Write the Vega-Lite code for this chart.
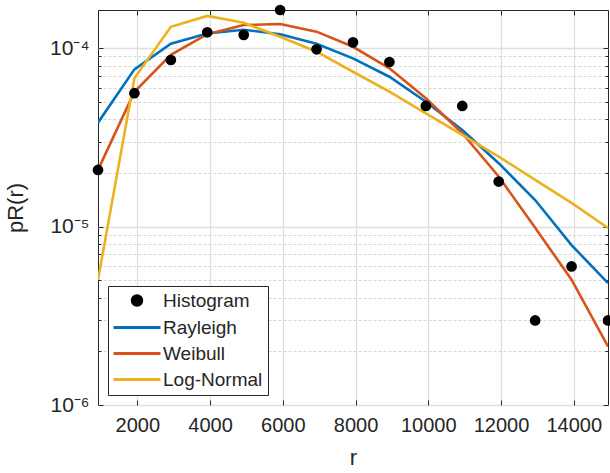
{
  "$schema": "https://vega.github.io/schema/vega-lite/v6.json",
  "width": 510,
  "height": 395,
  "autosize": {"type": "none"},
  "padding": {"left": 98, "top": 10, "right": 2, "bottom": 68},
  "background": "white",
  "config": {
    "view": {"stroke": "#262626", "strokeWidth": 1},
    "font": "Liberation Sans",
    "axis": {
      "labelFont": "Liberation Sans",
      "titleFont": "Liberation Sans",
      "labelColor": "#262626",
      "titleColor": "#262626",
      "titleFontWeight": "normal",
      "domain": false,
      "tickColor": "#262626"
    }
  },
  "datasets": {
    "d": [
      {"r": 920, "p": 2.08e-5, "series": "Histogram"},
      {"r": 1921, "p": 5.6e-5, "series": "Histogram"},
      {"r": 2923, "p": 8.6e-5, "series": "Histogram"},
      {"r": 3924, "p": 1.23e-4, "series": "Histogram"},
      {"r": 4926, "p": 1.19e-4, "series": "Histogram"},
      {"r": 5927, "p": 1.64e-4, "series": "Histogram"},
      {"r": 6928, "p": 9.87e-5, "series": "Histogram"},
      {"r": 7930, "p": 1.08e-4, "series": "Histogram"},
      {"r": 8931, "p": 8.38e-5, "series": "Histogram"},
      {"r": 9933, "p": 4.75e-5, "series": "Histogram"},
      {"r": 10934, "p": 4.75e-5, "series": "Histogram"},
      {"r": 11935, "p": 1.79e-5, "series": "Histogram"},
      {"r": 12937, "p": 2.98e-6, "series": "Histogram"},
      {"r": 13938, "p": 5.98e-6, "series": "Histogram"},
      {"r": 14940, "p": 2.98e-6, "series": "Histogram"},

      {"r": 920, "p": 3.83e-5, "series": "Rayleigh"},
      {"r": 1921, "p": 7.62e-5, "series": "Rayleigh"},
      {"r": 2923, "p": 1.06e-4, "series": "Rayleigh"},
      {"r": 3924, "p": 1.21e-4, "series": "Rayleigh"},
      {"r": 4926, "p": 1.27e-4, "series": "Rayleigh"},
      {"r": 5927, "p": 1.2e-4, "series": "Rayleigh"},
      {"r": 6928, "p": 1.06e-4, "series": "Rayleigh"},
      {"r": 7930, "p": 8.78e-5, "series": "Rayleigh"},
      {"r": 8931, "p": 6.93e-5, "series": "Rayleigh"},
      {"r": 9933, "p": 5.02e-5, "series": "Rayleigh"},
      {"r": 10934, "p": 3.48e-5, "series": "Rayleigh"},
      {"r": 11935, "p": 2.27e-5, "series": "Rayleigh"},
      {"r": 12937, "p": 1.41e-5, "series": "Rayleigh"},
      {"r": 13938, "p": 7.88e-6, "series": "Rayleigh"},
      {"r": 14940, "p": 4.83e-6, "series": "Rayleigh"},

      {"r": 920, "p": 2.08e-5, "series": "Weibull"},
      {"r": 1921, "p": 5.7e-5, "series": "Weibull"},
      {"r": 2923, "p": 9.2e-5, "series": "Weibull"},
      {"r": 3924, "p": 1.2e-4, "series": "Weibull"},
      {"r": 4926, "p": 1.35e-4, "series": "Weibull"},
      {"r": 5927, "p": 1.37e-4, "series": "Weibull"},
      {"r": 6928, "p": 1.24e-4, "series": "Weibull"},
      {"r": 7930, "p": 1.02e-4, "series": "Weibull"},
      {"r": 8931, "p": 7.72e-5, "series": "Weibull"},
      {"r": 9933, "p": 5.25e-5, "series": "Weibull"},
      {"r": 10934, "p": 3.34e-5, "series": "Weibull"},
      {"r": 11935, "p": 1.91e-5, "series": "Weibull"},
      {"r": 12937, "p": 9.86e-6, "series": "Weibull"},
      {"r": 13938, "p": 5.04e-6, "series": "Weibull"},
      {"r": 14940, "p": 2.13e-6, "series": "Weibull"},

      {"r": 920, "p": 5.04e-6, "series": "Log-Normal"},
      {"r": 1921, "p": 6.79e-5, "series": "Log-Normal"},
      {"r": 2923, "p": 1.32e-4, "series": "Log-Normal"},
      {"r": 3924, "p": 1.52e-4, "series": "Log-Normal"},
      {"r": 4926, "p": 1.39e-4, "series": "Log-Normal"},
      {"r": 5927, "p": 1.16e-4, "series": "Log-Normal"},
      {"r": 6928, "p": 9.57e-5, "series": "Log-Normal"},
      {"r": 7930, "p": 7.39e-5, "series": "Log-Normal"},
      {"r": 8931, "p": 5.71e-5, "series": "Log-Normal"},
      {"r": 9933, "p": 4.32e-5, "series": "Log-Normal"},
      {"r": 10934, "p": 3.27e-5, "series": "Log-Normal"},
      {"r": 11935, "p": 2.47e-5, "series": "Log-Normal"},
      {"r": 12937, "p": 1.83e-5, "series": "Log-Normal"},
      {"r": 13938, "p": 1.36e-5, "series": "Log-Normal"},
      {"r": 14940, "p": 9.83e-6, "series": "Log-Normal"}
    ]
  },
  "data": {"name": "d"},
  "resolve": {"axis": {"x": "independent", "y": "independent"}},
  "layer": [
    {
      "transform": [{"filter": "datum.series !== 'Histogram'"}],
      "mark": {"type": "line", "strokeWidth": 2.6, "clip": true},
      "encoding": {
        "x": {
          "field": "r", "type": "quantitative",
          "scale": {"domain": [920, 14940], "nice": false, "zero": false},
          "axis": {
            "orient": "bottom",
            "title": "r",
            "titleFontSize": 22,
            "titlePadding": 12,
            "values": [2000, 4000, 6000, 8000, 10000, 12000, 14000],
            "format": "d",
            "labelFontSize": 20,
            "labelPadding": 15,
            "tickSize": -5,
            "grid": true,
            "gridColor": "#e0e0e0",
            "gridWidth": 1.3
          }
        },
        "y": {
          "field": "p", "type": "quantitative",
          "scale": {"type": "log", "domain": [1e-6, 1.64e-4], "nice": false},
          "axis": {
            "orient": "left",
            "title": "pR(r)",
            "titleFontSize": 22,
            "titlePadding": 22,
            "values": [1e-6, 2e-6, 3e-6, 4e-6, 5e-6, 6e-6, 7e-6, 8e-6, 9e-6, 1e-5, 2e-5, 3e-5, 4e-5, 5e-5, 6e-5, 7e-5, 8e-5, 9e-5, 1e-4],
            "labelExpr": "datum.value == 1e-4 ? '10⁻⁴' : datum.value == 1e-5 ? '10⁻⁵' : datum.value == 1e-6 ? '10⁻⁶' : ''",
            "labelFontSize": 21,
            "labelPadding": 14,
            "tickSize": {"condition": {"test": "datum.value == 1e-4 || datum.value == 1e-5 || datum.value == 1e-6", "value": -5}, "value": -3},
            "grid": true,
            "gridColor": {"condition": {"test": "datum.value == 1e-4 || datum.value == 1e-5 || datum.value == 1e-6", "value": "#e0e0e0"}, "value": "#d6d6d6"},
            "gridDash": {"condition": {"test": "datum.value == 1e-4 || datum.value == 1e-5 || datum.value == 1e-6", "value": []}, "value": [3, 2]},
            "gridWidth": {"condition": {"test": "datum.value == 1e-4 || datum.value == 1e-5 || datum.value == 1e-6", "value": 1.3}, "value": 1}
          }
        },
        "color": {
          "field": "series", "type": "nominal",
          "scale": {"domain": ["Histogram", "Rayleigh", "Weibull", "Log-Normal"], "range": ["#000000", "#0072BD", "#D95319", "#EDB120"]},
          "legend": {
            "title": null,
            "orient": "bottom-left",
            "offset": 10,
            "fillColor": "white",
            "strokeColor": "#262626",
            "padding": 5,
            "labelFontSize": 19,
            "labelFont": "Liberation Sans",
            "labelColor": "#262626",
            "labelOffset": 31,
            "rowPadding": 6,
            "symbolSize": 100,
            "symbolStrokeWidth": 3,
            "encode": {
              "symbols": {
                "update": {
                  "shape": {"signal": "datum.value === 'Histogram' ? 'circle' : 'M-4.7,0L4.7,0'"},
                  "size": {"signal": "datum.value === 'Histogram' ? 90 : 100"},
                  "x": {"value": 24},
                  "fill": {"signal": "datum.value === 'Histogram' ? 'black' : 'transparent'"},
                  "stroke": {"signal": "datum.value === 'Histogram' ? 'transparent' : scale('color', datum.value)"},
                  "strokeWidth": {"value": 3},
                  "opacity": {"value": 1},
                  "fillOpacity": {"value": 1},
                  "strokeOpacity": {"value": 1}
                }
              }
            }
          }
        }
      }
    },
    {
      "transform": [{"filter": "datum.series === 'Histogram'"}],
      "mark": {"type": "point", "filled": true, "size": 115, "opacity": 1, "clip": false},
      "encoding": {
        "x": {
          "field": "r", "type": "quantitative",
          "scale": {"domain": [920, 14940], "nice": false, "zero": false},
          "axis": {"orient": "top", "title": null, "labels": false, "values": [2000, 4000, 6000, 8000, 10000, 12000, 14000], "tickSize": -5, "grid": false}
        },
        "y": {
          "field": "p", "type": "quantitative",
          "scale": {"type": "log", "domain": [1e-6, 1.64e-4], "nice": false},
          "axis": {
            "orient": "right", "title": null, "labels": false, "grid": false,
            "values": [1e-6, 2e-6, 3e-6, 4e-6, 5e-6, 6e-6, 7e-6, 8e-6, 9e-6, 1e-5, 2e-5, 3e-5, 4e-5, 5e-5, 6e-5, 7e-5, 8e-5, 9e-5, 1e-4],
            "tickSize": {"condition": {"test": "datum.value == 1e-4 || datum.value == 1e-5 || datum.value == 1e-6", "value": -5}, "value": -3}
          }
        },
        "color": {"field": "series", "type": "nominal"}
      }
    }
  ]
}
